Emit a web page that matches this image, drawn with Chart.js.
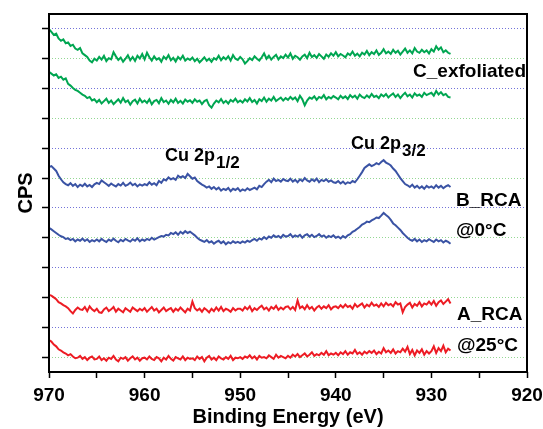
<!DOCTYPE html>
<html>
<head>
<meta charset="utf-8">
<script src="https://cdn.jsdelivr.net/npm/chart.js@4/dist/chart.umd.min.js"></script>
<style>
  html, body { margin: 0; padding: 0; background: #fff; }
  #wrap { width: 543px; height: 429px; }
</style>
</head>
<body>
<div id="wrap"><canvas id="xpsChart"></canvas></div>
<script>
// binding energy grid, 970 -> 928 eV in 0.25 eV steps
const energies = Array.from({ length: 169 }, (_, i) => 970 - i * 0.25);

// traces, offset-stacked (CPS, arbitrary units)
const cExfoliatedTop = [
  11.49, 11.40, 11.30, 11.34, 11.18, 11.10, 11.15, 11.02, 11.05, 10.93, 10.97, 10.84, 10.80, 10.86, 10.68, 10.62, 10.56, 10.44, 10.38, 10.50,
  10.44, 10.56, 10.47, 10.60, 10.42, 10.52, 10.48, 10.72, 10.58, 10.46, 10.54, 10.40, 10.50, 10.62, 10.45, 10.56, 10.43, 10.60, 10.51, 10.66,
  10.48, 10.70, 10.55, 10.44, 10.58, 10.47, 10.52, 10.40, 10.57, 10.49, 10.62, 10.45, 10.53, 10.41, 10.56, 10.48, 10.60, 10.44, 10.51, 10.46,
  10.54, 10.42, 10.50, 10.38, 10.46, 10.55, 10.43, 10.50, 10.40, 10.52, 10.47, 10.60, 10.45, 10.55, 10.48, 10.58, 10.44, 10.62, 10.50, 10.46,
  10.56, 10.48, 10.34, 10.42, 10.52, 10.46, 10.58, 10.50, 10.44, 10.55, 10.68, 10.50, 10.60, 10.47, 10.56, 10.63, 10.48, 10.58, 10.52, 10.64,
  10.54, 10.68, 10.50, 10.60, 10.55, 10.47, 10.58, 10.64, 10.52, 10.70, 10.56, 10.62, 10.53, 10.66, 10.58, 10.50, 10.64, 10.57, 10.68, 10.60,
  10.72, 10.58, 10.66, 10.61, 10.55, 10.68, 10.62, 10.74, 10.60, 10.67, 10.58, 10.70, 10.64, 10.76, 10.62, 10.72, 10.66, 10.78, 10.63, 10.70,
  10.82, 10.68, 10.74, 10.66, 10.80, 10.70, 10.77, 10.64, 10.74, 10.84, 10.70, 10.78, 10.68, 10.86, 10.74, 10.70, 10.80, 10.72, 10.78, 10.68,
  10.82, 10.74, 10.92, 10.80, 10.88, 10.72, 10.78, 10.70, 10.66];
const cExfoliatedBottom = [
  10.06, 10.00, 9.94, 9.98, 9.86, 9.90, 9.80, 9.84, 9.66, 9.60, 9.52, 9.46, 9.42, 9.36, 9.30, 9.26, 9.18, 9.22, 9.10, 9.14,
  9.04, 9.12, 9.00, 9.08, 9.16, 9.02, 9.10, 8.98, 9.06, 9.14, 9.03, 9.18, 9.05, 9.10, 8.96, 9.08, 9.13, 9.00, 9.16, 9.04,
  9.10, 9.02, 9.14, 8.97, 9.08, 9.12, 9.01, 9.18, 9.05, 9.10, 8.99, 9.12, 9.04, 9.16, 9.02, 9.09, 9.00, 9.13, 9.06, 9.11,
  9.02, 9.14, 9.06, 9.10, 8.98, 9.08, 9.12, 8.94, 8.86, 9.00, 9.10, 9.04, 9.15, 9.02, 9.09, 9.00, 9.12, 9.06, 9.16, 9.04,
  9.10, 9.03, 9.14, 9.07, 9.18, 9.05, 9.12, 9.00, 9.14, 9.08, 9.20, 9.06, 9.16, 9.10, 9.22, 9.08, 9.14, 9.20, 9.10, 9.18,
  9.12, 9.22, 9.14, 9.20, 9.08, 9.26, 9.14, 8.94, 9.10, 9.20, 9.16, 9.24, 9.12, 9.22, 9.18, 9.28, 9.14, 9.22, 9.17, 9.25,
  9.20, 9.14, 9.26, 9.18, 9.24, 9.15, 9.28, 9.20, 9.26, 9.16, 9.30, 9.22, 9.18, 9.27, 9.20, 9.32, 9.22, 9.26, 9.18, 9.30,
  9.24, 9.32, 9.20, 9.28, 9.34, 9.22, 9.30, 9.18, 9.28, 9.36, 9.24, 9.30, 9.20, 9.34, 9.26, 9.30, 9.22, 9.36, 9.28, 9.32,
  9.36, 9.26, 9.42, 9.30, 9.38, 9.28, 9.32, 9.22, 9.20];
const bRcaTop = [
  6.87, 6.90, 6.82, 6.74, 6.58, 6.46, 6.36, 6.30, 6.26, 6.33, 6.24, 6.30, 6.20, 6.28, 6.23, 6.31, 6.22, 6.27, 6.20, 6.29,
  6.34, 6.30, 6.42, 6.36, 6.30, 6.24, 6.32, 6.26, 6.22, 6.30, 6.25, 6.34, 6.24, 6.28, 6.35, 6.26, 6.31, 6.22, 6.29, 6.25,
  6.30, 6.26, 6.36, 6.28, 6.33, 6.26, 6.40, 6.34, 6.46, 6.42, 6.52, 6.46, 6.50, 6.44, 6.58, 6.52, 6.56, 6.50, 6.64, 6.56,
  6.48, 6.52, 6.40, 6.34, 6.28, 6.24, 6.18, 6.22, 6.14, 6.20, 6.12, 6.18, 6.08, 6.14, 6.10, 6.17, 6.06, 6.14, 6.10, 6.16,
  6.06, 6.12, 6.08, 6.16, 6.10, 6.14, 6.18, 6.12, 6.24, 6.20, 6.30, 6.38, 6.44, 6.36, 6.48, 6.40, 6.44, 6.38, 6.47, 6.42,
  6.40, 6.48, 6.38, 6.44, 6.36, 6.46, 6.40, 6.50, 6.42, 6.38, 6.46, 6.40, 6.48, 6.36, 6.44, 6.40, 6.46, 6.38, 6.42, 6.36,
  6.34, 6.40, 6.32, 6.38, 6.30, 6.36, 6.33, 6.40, 6.36, 6.46, 6.58, 6.70, 6.84, 6.90, 6.96, 6.90, 6.94, 7.00, 6.96, 7.04,
  7.10, 7.02, 6.98, 6.92, 6.82, 6.74, 6.62, 6.50, 6.40, 6.30, 6.26, 6.20, 6.28, 6.18, 6.24, 6.16, 6.22, 6.14, 6.24, 6.18,
  6.22, 6.16, 6.26, 6.18, 6.24, 6.16, 6.22, 6.26, 6.20];
const bRcaBottom = [
  4.83, 4.78, 4.72, 4.66, 4.60, 4.55, 4.52, 4.46, 4.48, 4.42, 4.46, 4.38, 4.44, 4.40, 4.47, 4.39, 4.45, 4.36, 4.42, 4.38,
  4.44, 4.38, 4.46, 4.40, 4.36, 4.44, 4.39, 4.47, 4.40, 4.35, 4.43, 4.38, 4.46, 4.41, 4.37, 4.45, 4.40, 4.48, 4.38, 4.44,
  4.40, 4.46, 4.42, 4.50, 4.44, 4.48, 4.52, 4.56, 4.54, 4.60, 4.58, 4.66, 4.62, 4.68, 4.60, 4.70, 4.64, 4.72, 4.66, 4.70,
  4.64, 4.58, 4.50, 4.44, 4.40, 4.36, 4.42, 4.34, 4.38, 4.30, 4.36, 4.40, 4.32, 4.38, 4.28, 4.35, 4.31, 4.38, 4.33, 4.36,
  4.32, 4.38, 4.34, 4.40, 4.36, 4.42, 4.46, 4.40, 4.48, 4.44, 4.52, 4.46, 4.54, 4.50, 4.58, 4.52, 4.56, 4.50, 4.60, 4.54,
  4.56, 4.62, 4.52, 4.58, 4.54, 4.60, 4.50, 4.58, 4.62, 4.54, 4.60, 4.52, 4.56, 4.62, 4.54, 4.58, 4.50, 4.56, 4.52, 4.58,
  4.50, 4.54, 4.48, 4.56, 4.50, 4.58, 4.62, 4.70, 4.74, 4.80, 4.86, 4.94, 4.98, 5.04, 5.02, 5.08, 5.12, 5.18, 5.16, 5.24,
  5.33, 5.26, 5.20, 5.10, 4.98, 4.92, 4.84, 4.76, 4.66, 4.58, 4.50, 4.44, 4.40, 4.46, 4.38, 4.44, 4.36, 4.42, 4.38, 4.45,
  4.40, 4.36, 4.44, 4.38, 4.42, 4.34, 4.40, 4.36, 4.30];
const aRcaTop = [
  2.58, 2.56, 2.50, 2.44, 2.34, 2.30, 2.24, 2.20, 2.14, 2.04, 1.96, 2.08, 2.16, 2.10, 2.08, 2.18, 2.04, 2.20, 2.10, 2.04,
  2.12, 2.00, 1.98, 2.10, 2.16, 2.04, 2.10, 2.18, 2.02, 2.12, 2.06, 2.00, 2.14, 2.08, 2.02, 2.16, 2.10, 2.04, 2.12, 2.06,
  2.14, 2.02, 2.10, 2.18, 2.06, 2.12, 2.00, 2.08, 2.16, 2.04, 2.10, 2.14, 2.02, 2.12, 2.06, 2.16, 2.08, 2.00, 2.12, 2.06,
  2.36, 2.14, 2.06, 2.12, 2.02, 2.14, 2.08, 2.00, 2.12, 2.04, 2.16, 2.06, 2.18, 2.04, 2.12, 2.08, 2.02, 2.14, 2.06, 2.12,
  2.12, 2.06, 2.18, 2.10, 2.20, 2.04, 2.14, 2.08, 2.16, 2.22, 2.10, 2.16, 2.06, 2.18, 2.12, 2.22, 2.08, 2.16, 2.10, 2.18,
  2.20, 2.10, 2.18, 2.08, 2.40, 2.14, 2.20, 2.10, 2.24, 2.12, 2.18, 2.06, 2.16, 2.22, 2.12, 2.20, 2.14, 2.24, 2.10, 2.18,
  2.20, 2.14, 2.24, 2.16, 2.26, 2.18, 2.22, 2.12, 2.28, 2.18, 2.24, 2.30, 2.16, 2.26, 2.20, 2.32, 2.22, 2.26, 2.18, 2.30,
  2.20, 2.32, 2.24, 2.28, 2.20, 2.34, 2.26, 2.30, 2.00, 2.18, 2.26, 2.32, 2.16, 2.28, 2.22, 2.34, 2.20, 2.30, 2.26, 2.36,
  2.26, 2.38, 2.22, 2.34, 2.40, 2.28, 2.36, 2.44, 2.30];
const aRcaBottom = [
  1.07, 1.02, 0.92, 0.86, 0.76, 0.72, 0.66, 0.62, 0.56, 0.60, 0.52, 0.46, 0.48, 0.54, 0.44, 0.50, 0.40, 0.48, 0.52, 0.42,
  0.44, 0.52, 0.40, 0.46, 0.38, 0.48, 0.44, 0.54, 0.42, 0.36, 0.48, 0.44, 0.50, 0.38, 0.46, 0.52, 0.42, 0.48, 0.38, 0.46,
  0.48, 0.42, 0.52, 0.44, 0.40, 0.50, 0.46, 0.36, 0.48, 0.42, 0.54, 0.44, 0.38, 0.50, 0.46, 0.42, 0.52, 0.40, 0.48, 0.44,
  0.46, 0.40, 0.52, 0.44, 0.50, 0.36, 0.48, 0.54, 0.42, 0.48, 0.40, 0.52, 0.46, 0.42, 0.50, 0.44, 0.54, 0.40, 0.48, 0.46,
  0.50, 0.44, 0.52, 0.48, 0.56, 0.46, 0.52, 0.42, 0.54, 0.48, 0.50, 0.46, 0.56, 0.50, 0.44, 0.58, 0.48, 0.54, 0.50, 0.46,
  0.54, 0.48, 0.58, 0.52, 0.60, 0.50, 0.56, 0.62, 0.52, 0.58, 0.66, 0.54, 0.60, 0.56, 0.64, 0.58, 0.70, 0.56, 0.62, 0.58,
  0.64, 0.56, 0.66, 0.60, 0.70, 0.58, 0.66, 0.62, 0.74, 0.60, 0.66, 0.58, 0.68, 0.62, 0.70, 0.64, 0.72, 0.60, 0.68, 0.62,
  0.80, 0.66, 0.72, 0.64, 0.76, 0.62, 0.70, 0.66, 0.78, 0.68, 0.84, 0.60, 0.74, 0.56, 0.72, 0.64, 0.76, 0.58, 0.70, 0.62,
  0.70, 0.86, 0.64, 0.80, 0.70, 0.88, 0.66, 0.78, 0.72];

// y tick marks (no labels), x tick marks
const yTickValues = [0.5, 1.5, 2.5, 3.5, 4.5, 5.5, 6.5, 7.5, 8.5, 9.5, 10.5, 11.5];
const xTickValues = [970, 965, 960, 955, 950, 945, 940, 935, 930, 925, 920];

const GREEN = '#00a651';
const BLUE = '#3a53a4';
const RED = '#ed1c24';
const FONT = '"Liberation Sans", Arial, sans-serif';

function toPoints(arr) {
    return arr.map((v, i) => ({ x: energies[i], y: v }));
}

function trace(arr, color) {
    return {
        data: toPoints(arr),
        borderColor: color,
        borderWidth: 2,
        pointRadius: 0,
        tension: 0,
        fill: false
    };
}

// frame + text labels
const decorations = {
    id: 'decorations',
    afterDraw(chart) {
        const { ctx, chartArea: a } = chart;
        ctx.save();
        ctx.setLineDash([]);
        ctx.strokeStyle = '#000';
        ctx.lineWidth = 2;
        ctx.beginPath();
        ctx.rect(a.left, a.top, a.right - a.left, a.bottom - a.top);
        ctx.stroke();

        ctx.fillStyle = '#000';
        ctx.textBaseline = 'alphabetic';
        ctx.font = 'bold 19px ' + FONT;
        ctx.textAlign = 'right';
        ctx.fillText('C_exfoliated', 526, 77);
        ctx.textAlign = 'left';
        ctx.fillText('B_RCA', 456, 206);
        ctx.fillText('@0°C', 456, 236);
        ctx.fillText('A_RCA', 457, 320);
        ctx.fillText('@25°C', 457, 351);

        // peak labels with subscripts
        function peak(x, y, sub) {
            ctx.font = 'bold 18px ' + FONT;
            ctx.fillText('Cu 2p', x, y);
            const w = ctx.measureText('Cu 2p').width;
            ctx.font = 'bold 17px ' + FONT;
            ctx.fillText(sub, x + w + 1, y + 7);
        }
        peak(165, 161, '1/2');
        peak(351, 149, '3/2');
        ctx.restore();
    }
};

document.addEventListener('DOMContentLoaded', function() {
    const ctx = document.getElementById('xpsChart').getContext('2d');
    new Chart(ctx, {
        type: 'line',
        data: {
            datasets: [
                trace(cExfoliatedTop, GREEN),
                trace(cExfoliatedBottom, GREEN),
                trace(bRcaTop, BLUE),
                trace(bRcaBottom, BLUE),
                trace(aRcaTop, RED),
                trace(aRcaBottom, RED)
            ]
        },
        options: {
            responsive: true,
            maintainAspectRatio: false,
            animation: false,
            layout: { padding: { top: 14, right: 16, left: 0, bottom: 0 } },
            plugins: {
                legend: { display: false },
                tooltip: { enabled: false }
            },
            scales: {
                x: {
                    type: 'linear',
                    reverse: true,
                    min: 920,
                    max: 970,
                    afterBuildTicks: s => { s.ticks = xTickValues.map(v => ({ value: v })); },
                    afterFit: s => { s.height = 57; s.paddingLeft = 0; s.paddingRight = 0; },
                    ticks: {
                        autoSkip: false,
                        maxRotation: 0,
                        color: '#000',
                        padding: 6,
                        font: { family: FONT, size: 19, weight: 'bold' },
                        callback: v => (v % 10 === 0 ? v : '')
                    },
                    grid: {
                        drawOnChartArea: false,
                        drawTicks: true,
                        tickLength: 6,
                        tickColor: '#000',
                        tickWidth: 1.5
                    },
                    border: { display: false },
                    title: {
                        display: true,
                        text: 'Binding Energy (eV)',
                        color: '#000',
                        padding: { top: 0, bottom: 0 },
                        font: { family: FONT, size: 20, weight: 'bold' }
                    }
                },
                y: {
                    min: 0,
                    max: 12,
                    afterBuildTicks: s => { s.ticks = yTickValues.map(v => ({ value: v })); },
                    afterFit: s => { s.width = 49; },
                    ticks: { callback: () => '' },
                    grid: {
                        color: c => (c.index % 2 === 0 ? 'rgba(120,205,120,0.8)' : 'rgba(90,90,210,0.85)'),
                        lineWidth: 1,
                        drawTicks: true,
                        tickLength: 7,
                        tickColor: '#000',
                        tickWidth: 1.5,
                        tickBorderDash: []
                    },
                    border: { display: false, dash: [1, 2] },
                    title: {
                        display: true,
                        text: 'CPS',
                        color: '#000',
                        padding: { top: 14, bottom: 0 },
                        font: { family: FONT, size: 20, weight: 'bold' }
                    }
                }
            }
        },
        plugins: [decorations]
    });
});
</script>
</body>
</html>
